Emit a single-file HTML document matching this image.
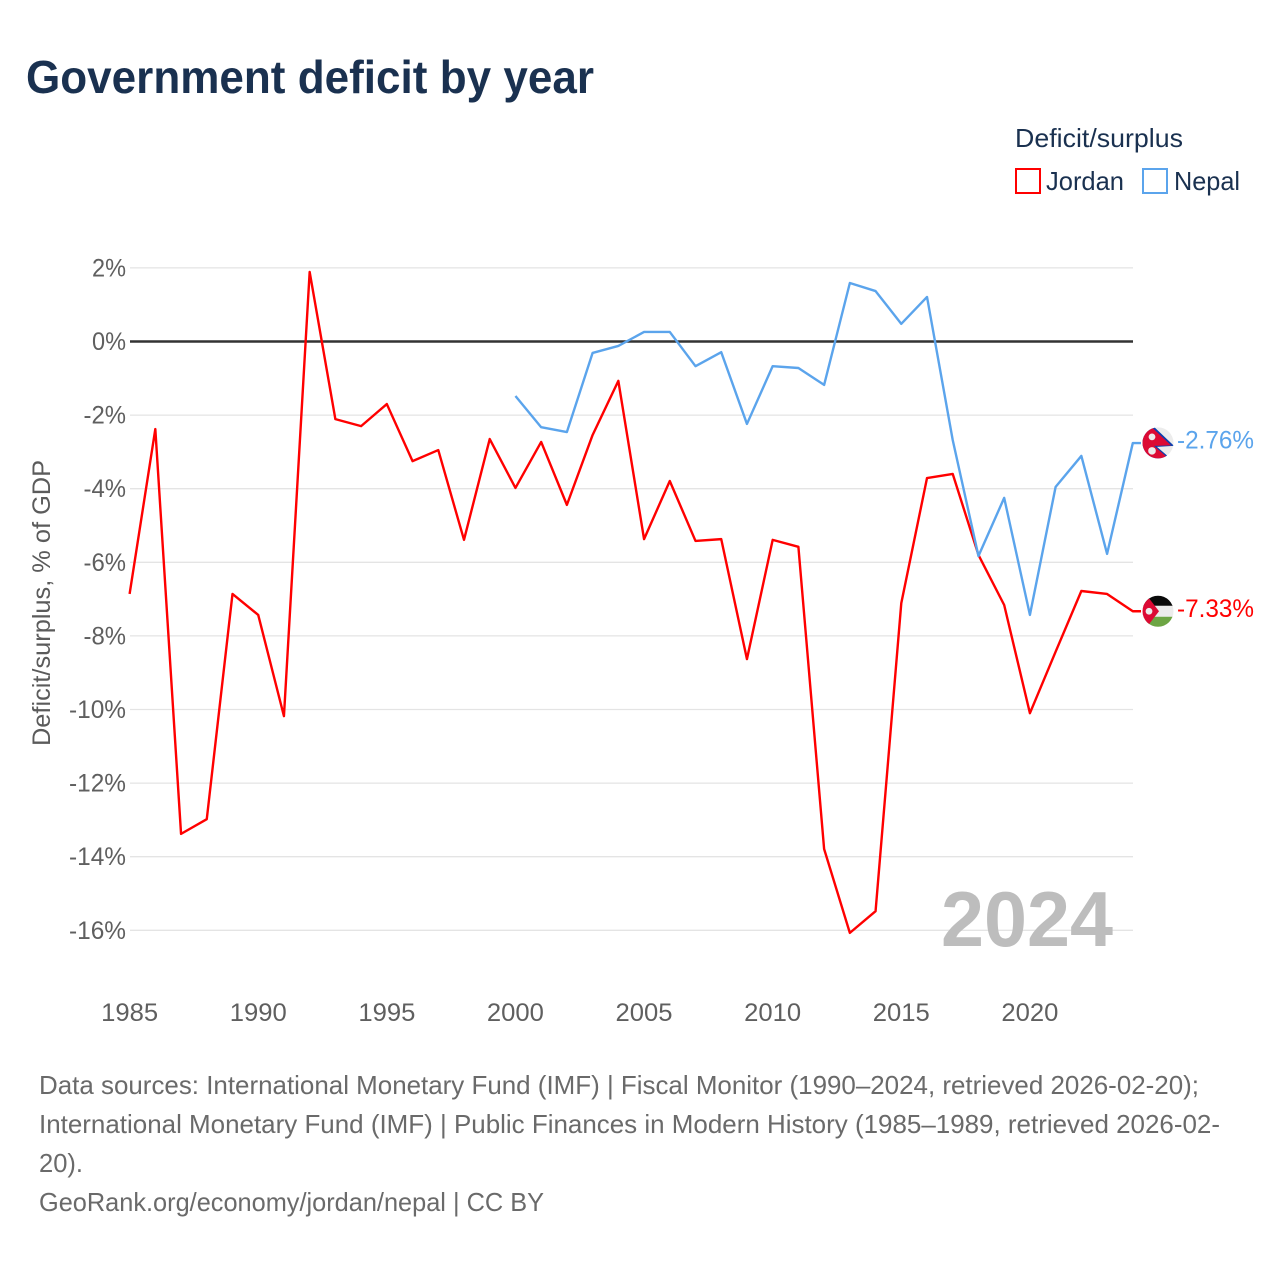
<!DOCTYPE html>
<html lang="en">
<head>
<meta charset="utf-8">
<title>Government deficit by year</title>
<style>
html,body{margin:0;padding:0;background:#fff;}
svg{display:block;font-family:"Liberation Sans",sans-serif;}
</style>
</head>
<body>
<svg id="chart" xmlns="http://www.w3.org/2000/svg" width="1280" height="1280" viewBox="0 0 1280 1280">
  <rect width="1280" height="1280" fill="#fff"/>
  <text x="26" y="93" font-size="46" font-weight="700" fill="#1a3150" textLength="568" lengthAdjust="spacingAndGlyphs">Government deficit by year</text>
  <g>
    <text x="1015" y="147" font-size="26" fill="#1a3150" textLength="168" lengthAdjust="spacingAndGlyphs">Deficit/surplus</text>
    <rect x="1016" y="169" width="24" height="24" fill="none" stroke="#ff0000" stroke-width="2"/>
    <text x="1046" y="190" font-size="26" fill="#1a3150" textLength="78" lengthAdjust="spacingAndGlyphs">Jordan</text>
    <rect x="1143" y="169" width="24" height="24" fill="none" stroke="#5ba4ec" stroke-width="2"/>
    <text x="1174" y="190" font-size="26" fill="#1a3150" textLength="66" lengthAdjust="spacingAndGlyphs">Nepal</text>
  </g>
  <g id="grid"></g>
  <g id="yticks"></g>
  <g id="xticks"></g>
  <text transform="translate(50,603) rotate(-90)" text-anchor="middle" font-size="25" fill="#5b5b5b" textLength="286" lengthAdjust="spacingAndGlyphs">Deficit/surplus, % of GDP</text>
  <text x="941" y="946" font-size="78" font-weight="700" fill="#bdbdbd" textLength="172" lengthAdjust="spacingAndGlyphs">2024</text>
  <g id="series"></g>
  <g id="flag-nepal">
    <clipPath id="clip-np"><circle cx="0" cy="0" r="15.5"/></clipPath>
    <g clip-path="url(#clip-np)">
      <rect x="-16" y="-16" width="32" height="32" fill="#ececec"/>
      <polygon points="-16,-17 -5,-17 16,3 -1,4 13,16 -16,16" fill="#0b3fae"/>
      <polygon points="-16,-16 -5,-14.5 13,2.5 -4,3 11,16 -16,16" fill="#dc0a34"/>
      <circle cx="-6" cy="-6" r="3.4" fill="#ececec"/>
      <circle cx="-6" cy="8" r="3.8" fill="#ececec"/>
    </g>
  </g>
  <g id="flag-jordan">
    <clipPath id="clip-jo"><circle cx="0" cy="0" r="15.5"/></clipPath>
    <g clip-path="url(#clip-jo)">
      <rect x="-16" y="-16" width="32" height="11" fill="#0a0a0a"/>
      <rect x="-16" y="-5.5" width="32" height="11" fill="#ececec"/>
      <rect x="-16" y="5.5" width="32" height="11" fill="#6da544"/>
      <polygon points="-16,-16 -9,-13 1,0 -9,13 -16,16" fill="#dc0a34"/>
      <circle cx="-9" cy="0" r="3.4" fill="#ececec"/>
    </g>
  </g>
  <g font-size="26" fill="#6a6a6a">
    <text x="39" y="1094" textLength="1160" lengthAdjust="spacingAndGlyphs">Data sources: International Monetary Fund (IMF) | Fiscal Monitor (1990–2024, retrieved 2026-02-20);</text>
    <text x="39" y="1133" textLength="1181" lengthAdjust="spacingAndGlyphs">International Monetary Fund (IMF) | Public Finances in Modern History (1985–1989, retrieved 2026-02-</text>
    <text x="39" y="1172" textLength="44" lengthAdjust="spacingAndGlyphs">20).</text>
    <text x="39" y="1211" textLength="505" lengthAdjust="spacingAndGlyphs">GeoRank.org/economy/jordan/nepal | CC BY</text>
  </g>
</svg>
<script>
const yTickValues = [2, 0, -2, -4, -6, -8, -10, -12, -14, -16];
const xTickYears = [1985, 1990, 1995, 2000, 2005, 2010, 2015, 2020];
const jordanYears = [1985,1986,1987,1988,1989,1990,1991,1992,1993,1994,1995,1996,1997,1998,1999,2000,2001,2002,2003,2004,2005,2006,2007,2008,2009,2010,2011,2012,2013,2014,2015,2016,2017,2018,2019,2020,2021,2022,2023,2024];
const jordanValues = [-6.86,-2.38,-13.38,-12.98,-6.86,-7.43,-10.18,1.89,-2.11,-2.30,-1.70,-3.25,-2.95,-5.39,-2.65,-3.98,-2.73,-4.44,-2.54,-1.07,-5.37,-3.79,-5.42,-5.37,-8.63,-5.39,-5.58,-13.79,-16.07,-15.48,-7.11,-3.71,-3.60,-5.80,-7.16,-10.10,-8.43,-6.78,-6.86,-7.33];
const nepalYears = [2000,2001,2002,2003,2004,2005,2006,2007,2008,2009,2010,2011,2012,2013,2014,2015,2016,2017,2018,2019,2020,2021,2022,2023,2024];
const nepalValues = [-1.48,-2.33,-2.46,-0.31,-0.12,0.26,0.26,-0.67,-0.29,-2.24,-0.67,-0.72,-1.18,1.59,1.37,0.48,1.21,-2.68,-5.83,-4.25,-7.43,-3.95,-3.11,-5.77,-2.76];

const NS = 'http://www.w3.org/2000/svg';
const xScale = yr => 129.6 + (yr - 1985) * (1132.8 - 129.6) / (2024 - 1985);
const yScale = v => 341.5 - v * 36.8;
function mk(tag, attrs, parent, text) {
  const el = document.createElementNS(NS, tag);
  for (const k in attrs) el.setAttribute(k, attrs[k]);
  if (text !== undefined) el.textContent = text;
  parent.appendChild(el);
  return el;
}
const grid = document.getElementById('grid');
const yticks = document.getElementById('yticks');
const xticks = document.getElementById('xticks');
const series = document.getElementById('series');

yTickValues.filter(v => v !== 0).forEach(v => {
  const line = mk('line', {x1: 130, x2: 1133, y1: yScale(v), y2: yScale(v), stroke: '#e4e4e4', 'stroke-width': 1.3}, grid);
  
  
});
const zero = mk('line', {x1: 130, x2: 1133, y1: yScale(0), y2: yScale(0), stroke: '#333333', 'stroke-width': 2.4}, grid);



yTickValues.forEach(v => {
  const label = v + '%';
  const digits = String(Math.abs(v)).length;
  const width = digits * 14.5 + 19.5 + (v < 0 ? 8.5 : 0);
  const t = mk('text', {x: 126, y: yScale(v) + 8.5, 'text-anchor': 'end', 'font-size': 25, fill: '#5f5f5f', textLength: width, lengthAdjust: 'spacingAndGlyphs'}, yticks, label);
  
  
});
xTickYears.forEach(yr => {
  const t = mk('text', {x: xScale(yr), y: 1021, 'text-anchor': 'middle', 'font-size': 25, fill: '#5f5f5f', textLength: 57, lengthAdjust: 'spacingAndGlyphs'}, xticks, String(yr));
  
  
});

function drawSeries(years, values, color) {
  const pts = years.map((yr, i) => xScale(yr).toFixed(2) + ',' + yScale(values[i]).toFixed(2));
  const last = values[values.length - 1];
  pts.push('1141,' + yScale(last).toFixed(2));
  return mk('polyline', {points: pts.join(' '), fill: 'none', stroke: color, 'stroke-width': 2.4, 'stroke-linejoin': 'round'}, series);
}
const jordanLine = drawSeries(jordanYears, jordanValues, '#ff0000');


const nepalLine = drawSeries(nepalYears, nepalValues, '#5ba4ec');



const nepalLast = nepalValues[nepalValues.length - 1];
const jordanLast = jordanValues[jordanValues.length - 1];
document.getElementById('flag-nepal').setAttribute('transform', 'translate(1158,' + (yScale(nepalLast) - 0.2) + ')');
document.getElementById('flag-jordan').setAttribute('transform', 'translate(1158,' + yScale(jordanLast) + ')');
const svgRoot = document.getElementById('chart');
const nepalValue = mk('text', {x: 1177, y: yScale(nepalLast) + 5.5, 'font-size': 25, fill: '#5ba4ec', textLength: 77, lengthAdjust: 'spacingAndGlyphs'}, svgRoot, nepalLast.toFixed(2) + '%');


const jordanValue = mk('text', {x: 1177, y: yScale(jordanLast) + 6, 'font-size': 25, fill: '#ff0000', textLength: 77, lengthAdjust: 'spacingAndGlyphs'}, svgRoot, jordanLast.toFixed(2) + '%');


</script>
</body>
</html>
